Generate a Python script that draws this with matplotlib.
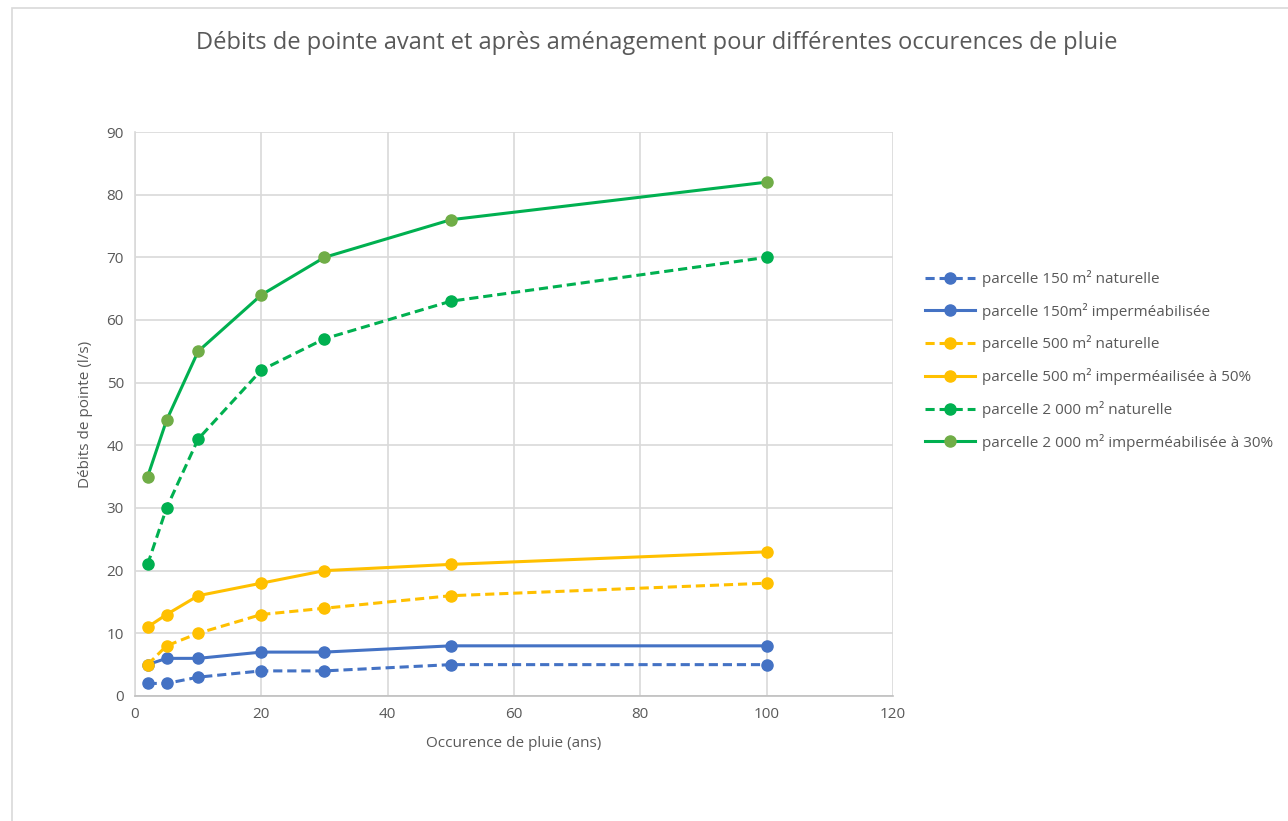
import matplotlib.pyplot as plt
from matplotlib.patches import Rectangle

plt.rcParams['font.family'] = ['Open Sans', 'DejaVu Sans']

occurence = [2, 5, 10, 20, 30, 50, 100]
p150_nat = [2, 2, 3, 4, 4, 5, 5]
p150_imp = [5, 6, 6, 7, 7, 8, 8]
p500_nat = [5, 8, 10, 13, 14, 16, 18]
p500_imp = [11, 13, 16, 18, 20, 21, 23]
p2000_nat = [21, 30, 41, 52, 57, 63, 70]
p2000_imp = [35, 44, 55, 64, 70, 76, 82]

labels = ['parcelle 150 m² naturelle',
          'parcelle 150m² imperméabilisée',
          'parcelle 500 m² naturelle',
          'parcelle 500 m² imperméailisée à 50%',
          'parcelle 2 000 m² naturelle',
          'parcelle 2 000 m² imperméabilisée à 30%']

blue = '#4472C4'
yellow = '#FFC000'
green = '#00B050'
green2 = '#70AD47'
grey = '#595959'

fig = plt.figure(figsize=(12.88, 8.21), dpi=100)
ax = fig.add_axes([0.1048, 0.1523, 0.5885, 0.6869])

# bordure du graphique
fig.patches.append(Rectangle((12 / 1288, -0.1), 1.2, 1 - 8 / 821 + 0.1, transform=fig.transFigure,
                             fill=False, edgecolor='#D9D9D9', linewidth=1.2))

series = [
    (p150_nat, blue, blue, '--'),
    (p150_imp, blue, blue, '-'),
    (p500_nat, yellow, yellow, '--'),
    (p500_imp, yellow, yellow, '-'),
    (p2000_nat, green, green, '--'),
    (p2000_imp, green, green2, '-'),
]
for (vals, c, mc, ls), lab in zip(series, labels):
    ax.plot(occurence, vals, color=c, linestyle=ls, linewidth=2.2, marker='o',
            markersize=8, markerfacecolor=mc, markeredgecolor=mc, label=lab,
            dashes=(3, 1.6) if ls == '--' else (None, None))

ax.set_xlim(0, 120)
ax.set_ylim(0, 90)
ax.set_xticks(range(0, 121, 20))
ax.set_yticks(range(0, 91, 10))
ax.grid(True, color='#D9D9D9', linewidth=1.2)
ax.set_axisbelow(True)
for s in ['top', 'right']:
    ax.spines[s].set_visible(False)
ax.spines['left'].set_color('#D9D9D9')
ax.spines['bottom'].set_color('#BFBFBF')
for s in ['left', 'bottom']:
    ax.spines[s].set_linewidth(1.2)
ax.tick_params(length=0, labelsize=11, colors=grey, pad=8)

ax.set_xlabel('Occurence de pluie (ans)', fontsize=11, color=grey, labelpad=10)
ax.set_ylabel('Débits de pointe (l/s)', fontsize=11, color=grey, labelpad=10)

fig.text(657 / 1288, 1 - 43 / 821, 'Débits de pointe avant et après aménagement pour différentes occurences de pluie',
         ha='center', va='center', fontsize=17, color=grey)

fig.legend(loc='upper left', bbox_to_anchor=(925 / 1288, 1 - 270 / 821), frameon=False,
           fontsize=11, labelcolor=grey, handlelength=3.3, handletextpad=0.4,
           labelspacing=1.03, borderaxespad=0, borderpad=0)

fig.savefig('out.png', dpi=100, facecolor='white')
